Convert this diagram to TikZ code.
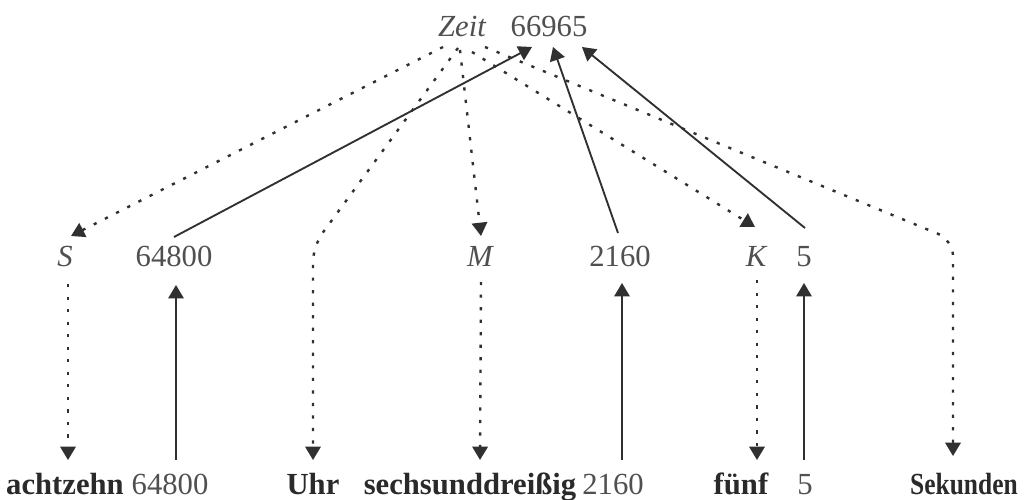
\documentclass[tikz,border=0pt]{standalone}
\usepackage{fontspec}
\usepackage{graphicx}
\setmainfont{Liberation Serif}
\usetikzlibrary{arrows.meta}
\definecolor{ink}{HTML}{303030}
\definecolor{txt}{HTML}{505050}
\definecolor{btxt}{HTML}{2A2A2A}
\begin{document}
\begin{tikzpicture}[x=0.75pt,y=-0.75pt,
  lbl/.style={anchor=base,inner sep=0pt,text=txt,font=\fontsize{23}{27}\selectfont},
  ilbl/.style={lbl,font=\fontsize{23}{27}\selectfont\itshape},
  blbl/.style={lbl,text=btxt,font=\fontsize{23}{27}\selectfont\bfseries},
  tip/.style={-{Triangle[length=10pt,width=11.5pt]}},
  dotline/.style={tip,draw=ink,line width=1.8pt,dash pattern=on 2.4pt off 7pt},
  solidline/.style={tip,draw=ink,line width=1.4pt}]
\fill[white] (0,0) rectangle (1026,500);
\useasboundingbox (0,0) rectangle (1026,500);

% top row
\node[ilbl] (zeit) at (462,36) {Zeit};
\node[lbl] (top) at (549,36) {66965};

% middle row
\node[ilbl] (S) at (65,266) {S};
\node[lbl] (m64800) at (174,266) {64800};
\node[ilbl] (M) at (480,266) {M};
\node[lbl] (m2160) at (620,266) {2160};
\node[ilbl] (K) at (756,266) {K};
\node[lbl] (m5) at (804,266) {5};

% bottom row
\node[blbl] (achtzehn) at (65,494) {achtzehn};
\node[lbl] (b64800) at (170,494) {64800};
\node[blbl] (uhr) at (313,494) {Uhr};
\node[blbl] (sechs) at (470,494) {sechsunddreißig};
\node[lbl] (b2160) at (613,494) {2160};
\node[blbl] (fuenf) at (741,494) {fünf};
\node[lbl] (b5) at (805,494) {5};
\node[blbl] (sek) at (964,494) {\scalebox{0.83}[1]{Sekunden}};

% connector ends
\coordinate (zS) at (443,47);
\coordinate (zU) at (458,48);
\coordinate (zM) at (460,50);
\coordinate (zK) at (472,52);
\coordinate (zSek) at (485,47);
\coordinate (tipS) at (71,236);
\coordinate (bendU) at (313,246);
\coordinate (tipU) at (313,460);
\coordinate (tipM) at (481,236);
\coordinate (tipK) at (755,227);
\coordinate (bendSek) at (953,240);
\coordinate (tipSek) at (953,456);

\coordinate (t1) at (532,47);
\coordinate (t2) at (553,47);
\coordinate (t3) at (582,47);
\coordinate (f1) at (174,237);
\coordinate (f2) at (618,233);
\coordinate (f3) at (805,228);

\coordinate (sTop) at (68,284);
\coordinate (sTip) at (68,460);
\coordinate (mTop) at (481,282);
\coordinate (mTip) at (480,460);
\coordinate (kTop) at (757,280);
\coordinate (kTip) at (757,460);

\coordinate (b1) at (176,460);
\coordinate (u1) at (176,285);
\coordinate (b2) at (622,460);
\coordinate (u2) at (622,283);
\coordinate (b3) at (804,460);
\coordinate (u3) at (804,283);

% dotted from Zeit
\draw[dotline] (zS) -- (tipS);
\draw[dotline,rounded corners=12pt] (zU) -- (bendU) -- (tipU);
\draw[dotline] (zM) -- (tipM);
\draw[dotline] (zK) -- (tipK);
\draw[dotline,rounded corners=12pt] (zSek) -- (bendSek) -- (tipSek);

% solid to 66965
\draw[solidline] (f1) -- (t1);
\draw[solidline] (f2) -- (t2);
\draw[solidline] (f3) -- (t3);

% vertical middle -> bottom (dotted)
\draw[dotline] (sTop) -- (sTip);
\draw[dotline] (mTop) -- (mTip);
\draw[dotline] (kTop) -- (kTip);

% vertical bottom -> middle (solid)
\draw[solidline] (b1) -- (u1);
\draw[solidline] (b2) -- (u2);
\draw[solidline] (b3) -- (u3);
\end{tikzpicture}
\end{document}
